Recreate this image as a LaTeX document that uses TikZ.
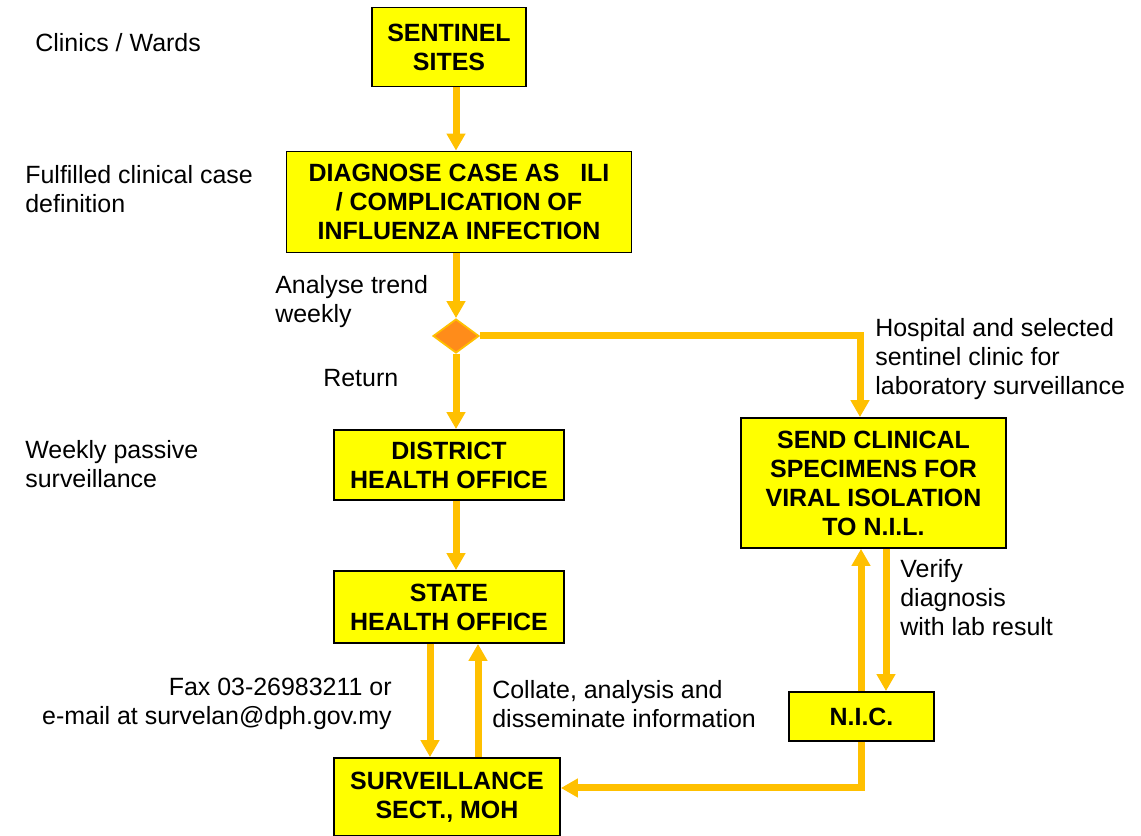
\documentclass[tikz,border=0pt]{standalone}
\usepackage{fontspec}
\setmainfont{Liberation Sans}
\usetikzlibrary{shapes.geometric,arrows.meta,positioning,calc}
\definecolor{boxyellow}{HTML}{FFFF00}
\definecolor{flowgold}{HTML}{FFC000}
\definecolor{decorange}{HTML}{FF8C1A}

\begin{document}
\begin{tikzpicture}[
    box/.style={draw=black, line width=1pt, fill=boxyellow, align=center, inner sep=0pt,
        font=\bfseries\fontsize{14.2pt}{16.5pt}\selectfont},
    note/.style={inner sep=0pt, align=left, font=\fontsize{14.2pt}{16.5pt}\selectfont},
    flow/.style={draw=flowgold, line width=0.14cm, -{Triangle[width=0.36cm,length=0.34cm]}},
    decision/.style={diamond, draw=flowgold, line width=1pt, fill=decorange, inner sep=0pt,
        minimum width=0.92cm, minimum height=0.68cm}
]
    \useasboundingbox (0,0) rectangle (22.82,16.72);

    % boxes
    \node[box, minimum width=3.08cm, minimum height=1.58cm] (sites) at (8.98,15.78) {SENTINEL\\SITES};
    \node[box, minimum width=6.9cm, minimum height=2.02cm] (diag) at (9.18,12.68) {DIAGNOSE CASE AS\ \ \ ILI\\/ COMPLICATION OF\\INFLUENZA INFECTION};
    \node[decision] (dec) at (9.12,10.0) {};
    \node[box, minimum width=4.6cm, minimum height=1.4cm] (district) at (8.98,7.42) {DISTRICT\\HEALTH OFFICE};
    \node[box, minimum width=4.6cm, minimum height=1.44cm] (state) at (8.98,4.58) {STATE\\HEALTH OFFICE};
    \node[box, minimum width=4.52cm, minimum height=1.56cm] (surv) at (8.94,0.78) {SURVEILLANCE\\SECT., MOH};
    \node[box, minimum width=5.3cm, minimum height=2.6cm] (send) at (17.47,7.06) {SEND CLINICAL\\SPECIMENS FOR\\VIRAL ISOLATION\\TO N.I.L.};
    \node[box, minimum width=2.9cm, minimum height=0.98cm] (nic) at (17.23,2.39) {N.I.C.};

    % side notes
    \node[note, anchor=west] (wards) at (0.7,15.86) {Clinics / Wards};
    \node[note, anchor=west] (casedef) at (0.5,12.93) {Fulfilled clinical case\\definition};
    \node[note, anchor=west] (trend) at (5.5,10.69) {Analyse trend\\weekly};
    \node[note, anchor=west] (return) at (6.46,9.16) {Return};
    \node[note, anchor=west] (hospital) at (17.5,9.54) {Hospital and selected\\sentinel clinic for\\laboratory surveillance};
    \node[note, anchor=west] (passive) at (0.5,7.43) {Weekly passive\\surveillance};
    \node[note, anchor=west] (verify) at (18.0,4.76) {Verify\\diagnosis\\with lab result};
    \node[note, anchor=east, align=right] (fax) at (7.84,2.64) {Fax 03-26983211 or\\e-mail at survelan@dph.gov.my};
    \node[note, anchor=west] (collate) at (9.84,2.64) {Collate, analysis and\\disseminate information};

    % arrow lanes
    \coordinate (faxline) at (8.6,0);
    \coordinate (collateline) at (9.56,0);
    \coordinate (labline) at (17.2,0);
    \coordinate (upline) at (17.22,0);
    \coordinate (downline) at (17.72,0);
    \coordinate (backline) at (0,0.96);

    % connectors
    \draw[flow] (sites.south -| dec) -- (diag.north -| dec);
    \draw[flow] (diag.south -| dec) -- (dec.north);
    \draw[flow] (dec.south) -- (district.north -| dec);
    \draw[flow] (dec.east) -| (send.north -| labline);
    \draw[flow] (district.south -| dec) -- (state.north -| dec);
    \draw[flow] (state.south -| faxline) -- (surv.north -| faxline);
    \draw[flow] (surv.north -| collateline) -- (state.south -| collateline);
    \draw[flow] (nic.north -| upline) -- (send.south -| upline);
    \draw[flow] (send.south -| downline) -- (nic.north -| downline);
    \draw[flow] (nic.south -| upline) |- (surv.east |- backline);
\end{tikzpicture}
\end{document}
